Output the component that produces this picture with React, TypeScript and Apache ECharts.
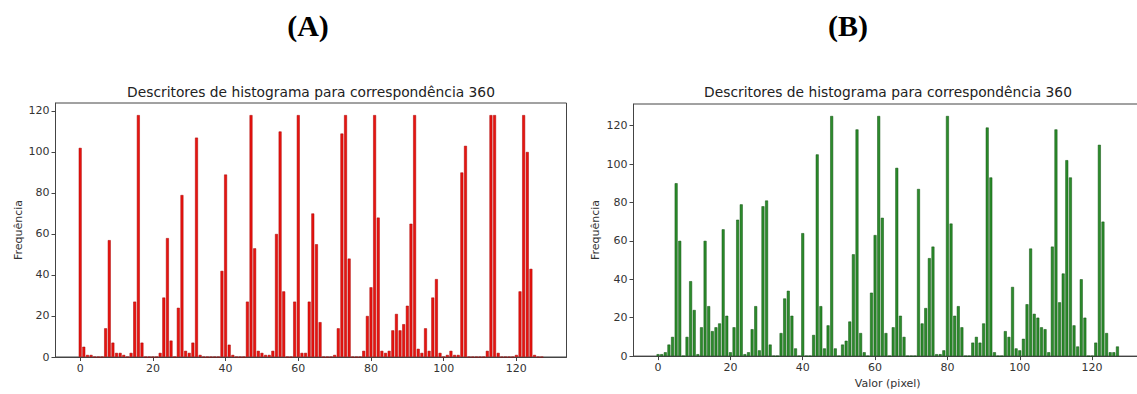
import React, { useEffect, useRef } from "react";
import * as echarts from "echarts";

// Histogram bins 0..127 (panel A, red)
const binsA: number[] = [
  102, 5, 1, 1, 0, 0, 0, 14, 57, 7,
  2, 2, 1, 0, 2, 27, 118, 7, 0, 0,
  0, 0, 2, 29, 58, 8, 0, 24, 79, 3,
  2, 7, 107, 1, 0, 0, 0, 0, 0, 42,
  89, 6, 1, 0, 0, 0, 27, 118, 53, 3,
  2, 1, 1, 3, 60, 110, 32, 0, 0, 27,
  118, 2, 2, 27, 70, 55, 17, 0, 0, 0,
  1, 14, 109, 118, 48, 0, 0, 0, 3, 20,
  34, 118, 68, 3, 2, 3, 13, 21, 13, 16,
  25, 65, 118, 4, 2, 14, 3, 29, 38, 2,
  0, 1, 3, 1, 1, 90, 103, 0, 0, 0,
  0, 0, 3, 118, 118, 2, 0, 0, 0, 0,
  1, 32, 118, 100, 43, 1, 0, 0,
];

// Histogram bins 0..127 (panel B, green)
const binsB: number[] = [
  1, 1, 2, 6, 10, 90, 60, 0, 10, 39,
  24, 1, 15, 60, 26, 13, 15, 17, 66, 21,
  2, 15, 71, 79, 1, 2, 14, 26, 3, 78,
  81, 6, 0, 0, 12, 30, 34, 21, 4, 0,
  64, 0, 0, 11, 105, 26, 4, 16, 125, 4,
  0, 6, 8, 18, 53, 118, 12, 2, 0, 33,
  63, 125, 72, 12, 0, 15, 98, 21, 10, 0,
  0, 0, 87, 17, 25, 51, 57, 1, 1, 3,
  125, 69, 21, 26, 15, 0, 0, 7, 10, 7,
  17, 119, 93, 2, 0, 0, 13, 10, 36, 4,
  3, 9, 27, 56, 22, 20, 15, 14, 2, 57,
  118, 28, 43, 102, 93, 16, 5, 40, 20, 0,
  0, 7, 110, 70, 12, 2, 2, 5,
];

const xTicks: number[] = [0, 20, 40, 60, 80, 100, 120];
const yTicks: number[] = [0, 20, 40, 60, 80, 100, 120];
const chartTitle = "Descritores de histograma para correspondência 360";
const yAxisName = "Frequência";
const xAxisNameB = "Valor (pixel)";
const panelLabels: string[] = ["(A)", "(B)"];

const FONT = "DejaVu Sans";
const AXIS_COLOR = "#444";
const TEXT_COLOR = "#333";

function toPoints(arr: number[]) {
  return arr.map((v, i) => [i, v]);
}

export default function App() {
  const ref = useRef<HTMLDivElement>(null);

  useEffect(() => {
    if (!ref.current) return;
    const chart = echarts.init(ref.current, undefined, { renderer: "svg" });

    const n = binsA.length;
    const span = n - 1 + 0.8;
    const xMin = -0.4 - span * 0.05;
    const xMax = n - 1 + 0.4 + span * 0.05;

    const labelStyle = {
      color: TEXT_COLOR,
      fontSize: 11,
      fontFamily: FONT,
    };

    const xAxisCfg = (gridIndex: number, name: string) => ({
      type: "value",
      gridIndex,
      min: xMin,
      max: xMax,
      name,
      nameLocation: "middle",
      nameGap: 21,
      nameTextStyle: { ...labelStyle },
      axisLine: {
        show: true,
        onZero: false,
        lineStyle: { color: AXIS_COLOR, width: 1 },
      },
      axisTick: {
        show: true,
        length: 4,
        customValues: xTicks,
        lineStyle: { color: AXIS_COLOR, width: 1 },
      },
      axisLabel: { ...labelStyle, margin: 6, customValues: xTicks },
      splitLine: { show: false },
    });

    const yAxisCfg = (gridIndex: number, max: number, gap: number) => ({
      type: "value",
      gridIndex,
      min: 0,
      max,
      name: yAxisName,
      nameLocation: "middle",
      nameRotate: 90,
      nameGap: gap,
      nameTextStyle: { ...labelStyle },
      axisLine: {
        show: true,
        onZero: false,
        lineStyle: { color: AXIS_COLOR, width: 1 },
      },
      axisTick: {
        show: true,
        length: 4,
        customValues: yTicks,
        lineStyle: { color: AXIS_COLOR, width: 1 },
      },
      axisLabel: { ...labelStyle, margin: 6, customValues: yTicks },
      splitLine: { show: false },
    });

    const maxA = Math.max(...binsA) * 1.05;
    const maxB = Math.max(...binsB) * 1.05;

    const titleStyle = {
      fontSize: 13.8,
      fontFamily: FONT,
      fill: "#222",
      textAlign: "center",
      textVerticalAlign: "middle",
      align: "center",
      verticalAlign: "middle",
    };
    const panelStyle = {
      fontSize: 30,
      fontWeight: "bold",
      fontFamily: "Liberation Serif",
      fill: "#000",
      textAlign: "center",
      textVerticalAlign: "middle",
      align: "center",
      verticalAlign: "middle",
    };

    chart.setOption({
      animation: false,
      backgroundColor: "#ffffff",
      grid: [
        {
          left: 55.5,
          top: 103,
          width: 511,
          height: 254,
          show: true,
          borderColor: AXIS_COLOR,
          borderWidth: 1,
          backgroundColor: "transparent",
        },
        {
          left: 633.5,
          top: 104,
          width: 508.5,
          height: 254,
          show: true,
          borderColor: AXIS_COLOR,
          borderWidth: 1,
          backgroundColor: "transparent",
        },
      ],
      xAxis: [xAxisCfg(0, ""), xAxisCfg(1, xAxisNameB)],
      yAxis: [yAxisCfg(0, maxA, 32), yAxisCfg(1, maxB, 33)],
      series: [
        {
          type: "bar",
          xAxisIndex: 0,
          yAxisIndex: 0,
          data: toPoints(binsA),
          barWidth: 2.9,
          itemStyle: {
            color: "#e8140f",
            borderColor: "#a80000",
            borderWidth: 0.5,
          },
        },
        {
          type: "bar",
          xAxisIndex: 1,
          yAxisIndex: 1,
          data: toPoints(binsB),
          barWidth: 2.9,
          itemStyle: {
            color: "#2c8c2c",
            borderColor: "#0d4f0d",
            borderWidth: 0.5,
          },
        },
      ],
      graphic: [
        { type: "text", x: 308, y: 25, style: { text: panelLabels[0], ...panelStyle } },
        { type: "text", x: 848, y: 25, style: { text: panelLabels[1], ...panelStyle } },
        { type: "text", x: 311, y: 92, style: { text: chartTitle, ...titleStyle } },
        { type: "text", x: 888, y: 92, style: { text: chartTitle, ...titleStyle } },
      ],
    });

    return () => {
      chart.dispose();
    };
  }, []);

  return (
    <div
      style={{
        position: "fixed",
        left: 0,
        top: 0,
        width: 1137,
        height: 394,
        overflow: "hidden",
        background: "#fff",
      }}
    >
      <div ref={ref} style={{ width: 1150, height: 394 }} />
    </div>
  );
}
